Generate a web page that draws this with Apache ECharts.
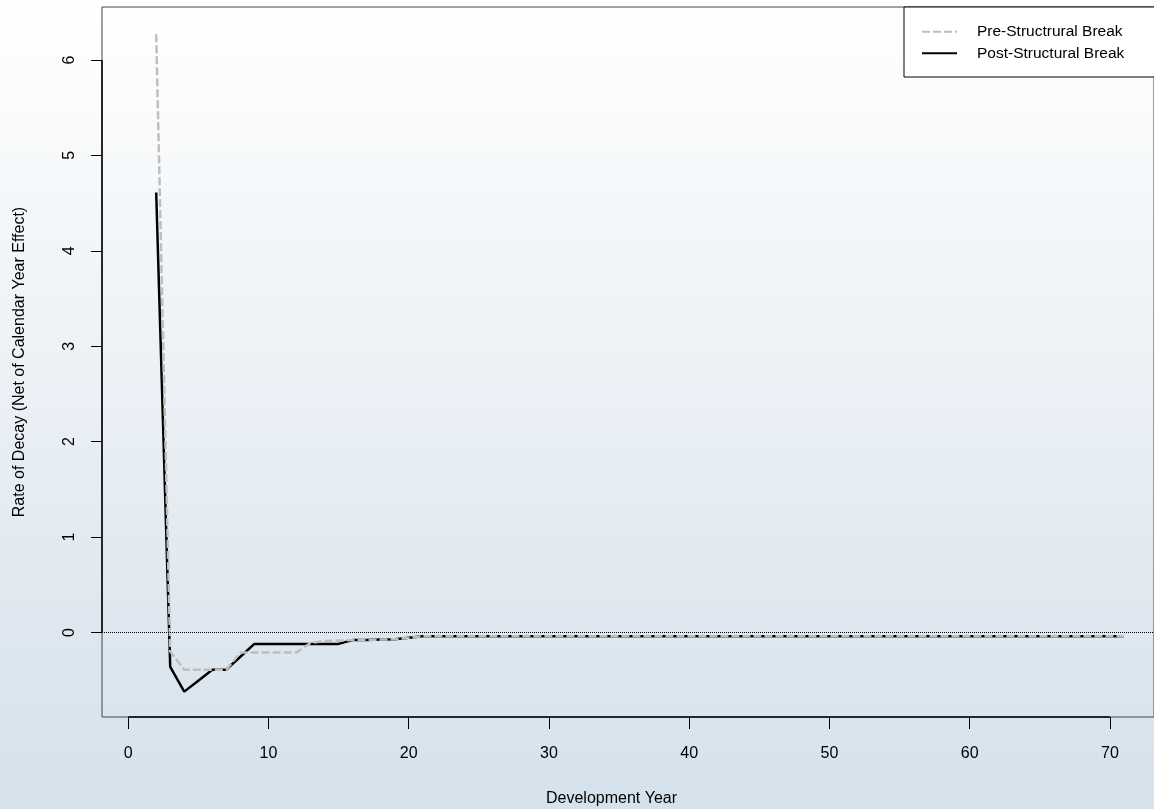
<!DOCTYPE html>
<html>
<head>
<meta charset="utf-8">
<script src="https://cdn.jsdelivr.net/npm/echarts@6/dist/echarts.min.js"></script>
<style>
  html, body { margin: 0; padding: 0; }
  #chart { width: 1154px; height: 809px; }
</style>
</head>
<body>
<div id="chart"></div>
<script>
(function () {
  "use strict";

  // development years (x) and the two decay-rate curves
  const YEARS = [2, 3, 4, 5, 6, 7, 8, 9, 10, 11, 12, 13, 14, 15, 16, 17, 18, 19, 20,
    21, 22, 23, 24, 25, 26, 27, 28, 29, 30, 31, 32, 33, 34, 35, 36, 37, 38, 39, 40,
    41, 42, 43, 44, 45, 46, 47, 48, 49, 50, 51, 52, 53, 54, 55, 56, 57, 58, 59, 60,
    61, 62, 63, 64, 65, 66, 67, 68, 69, 70, 71];
  const PRE_BREAK = [6.27, -0.20, -0.39, -0.39, -0.39, -0.39, -0.21, -0.21, -0.21, -0.21, -0.21,
    -0.11, -0.09, -0.085, -0.08, -0.08, -0.075, -0.07, -0.055,
    -0.04, -0.04, -0.04, -0.04, -0.04, -0.04, -0.04, -0.04, -0.04, -0.04,
    -0.04, -0.04, -0.04, -0.04, -0.04, -0.04, -0.04, -0.04, -0.04, -0.04,
    -0.04, -0.04, -0.04, -0.04, -0.04, -0.04, -0.04, -0.04, -0.04, -0.04,
    -0.04, -0.04, -0.04, -0.04, -0.04, -0.04, -0.04, -0.04, -0.04, -0.04,
    -0.04, -0.04, -0.04, -0.04, -0.04, -0.04, -0.04, -0.04, -0.04, -0.04, -0.04];
  const POST_BREAK = [4.61, -0.36, -0.62, -0.505, -0.39, -0.39, -0.255, -0.12, -0.12, -0.12, -0.12,
    -0.12, -0.12, -0.12, -0.08, -0.08, -0.075, -0.07, -0.055,
    -0.04, -0.04, -0.04, -0.04, -0.04, -0.04, -0.04, -0.04, -0.04, -0.04,
    -0.04, -0.04, -0.04, -0.04, -0.04, -0.04, -0.04, -0.04, -0.04, -0.04,
    -0.04, -0.04, -0.04, -0.04, -0.04, -0.04, -0.04, -0.04, -0.04, -0.04,
    -0.04, -0.04, -0.04, -0.04, -0.04, -0.04, -0.04, -0.04, -0.04, -0.04,
    -0.04, -0.04, -0.04, -0.04, -0.04, -0.04, -0.04, -0.04, -0.04, -0.04, -0.04];
  const X_TICKS = [0, 10, 20, 30, 40, 50, 60, 70];
  const Y_TICKS = [0, 1, 2, 3, 4, 5, 6];
  const NAMES = ["Pre-Structrural Break", "Post-Structural Break"];

  const X_MIN = -1.864, X_MAX = 73.14;
  const Y_MIN = -0.886, Y_MAX = 6.555;
  const FONT = "Liberation Sans, Arial, Helvetica, sans-serif";

  const chart = echarts.init(document.getElementById("chart"));
  const pairs = vals => YEARS.map((x, i) => [x, vals[i]]);

  const axisCommon = {
    type: "value",
    splitLine: { show: false },
    axisLine: { show: false, onZero: false },
    axisTick: { show: true, inside: false, lineStyle: { color: "#000", width: 1 } },
    axisLabel: { color: "#000", fontSize: 16, fontFamily: FONT },
  };

  chart.setOption({
    animation: false,
    backgroundColor: new echarts.graphic.LinearGradient(0, 0, 0, 1, [
      { offset: 0, color: "#ffffff" },
      { offset: 1, color: "#d5e1eb" },
    ]),
    grid: { left: 102, right: -6, top: 7, bottom: 92, show: true, borderColor: "#444", borderWidth: 1, backgroundColor: "transparent" },
    legend: {
      data: NAMES,
      orient: "vertical",
      left: 904, top: 7,
      padding: [16.7, 40, 15.7, 17],
      itemWidth: 35, itemHeight: 16, itemGap: 5.6,
      itemStyle: { opacity: 0 },
      backgroundColor: "#fff", borderColor: "#000", borderWidth: 1, borderRadius: 0,
      textStyle: { color: "#000", fontSize: 15.5, lineHeight: 16, fontFamily: FONT, padding: [0, 0, 0, 15] },
    },
    xAxis: Object.assign({}, axisCommon, {
      min: X_MIN, max: X_MAX,
      axisTick: Object.assign({}, axisCommon.axisTick, { length: 12, customValues: X_TICKS }),
      axisLabel: Object.assign({}, axisCommon.axisLabel, { margin: 29, customValues: X_TICKS }),
    }),
    yAxis: Object.assign({}, axisCommon, {
      min: Y_MIN, max: Y_MAX,
      axisTick: Object.assign({}, axisCommon.axisTick, { length: 11, customValues: Y_TICKS }),
      axisLabel: Object.assign({}, axisCommon.axisLabel, { rotate: 90, margin: 24, customValues: Y_TICKS }),
    }),
    graphic: [
      { type: "text", left: 613 - 67, top: 791, style: { text: "Development Year", fill: "#000", font: "16px " + FONT } },
      { type: "text", x: 20, y: 362, rotation: Math.PI / 2,
        style: { text: "Rate of Decay (Net of Calendar Year Effect)", fill: "#000", font: "16px " + FONT, align: "center", verticalAlign: "middle" } },
    ],
    series: [
      {
        name: NAMES[1], type: "line", data: pairs(POST_BREAK), symbol: "none", z: 3,
        lineStyle: { color: "#000", width: 2.5, type: "solid" }, itemStyle: { color: "#000" },
        markLine: {
          silent: true, symbol: "none", label: { show: false }, animation: false,
          data: [
            // zero reference line
            [{ coord: [X_MIN, 0], lineStyle: { color: "#000", width: 1, type: [1, 1] } }, { coord: [X_MAX, 0] }],
            // R-style axis lines spanning the first to last tick
            [{ coord: [X_TICKS[0], Y_MIN], lineStyle: { color: "#000", width: 1.5, type: "solid" } }, { coord: [X_TICKS[X_TICKS.length - 1], Y_MIN] }],
            [{ coord: [X_MIN, Y_TICKS[0]], lineStyle: { color: "#000", width: 1.5, type: "solid" } }, { coord: [X_MIN, Y_TICKS[Y_TICKS.length - 1]] }],
          ],
        },
      },
      {
        name: NAMES[0], type: "line", data: pairs(PRE_BREAK), symbol: "none", z: 4,
        lineStyle: { color: "#bebebe", width: 2.5, type: [8, 3] }, itemStyle: { color: "#bebebe" },
      },
    ],
  });
})();
</script>
</body>
</html>
